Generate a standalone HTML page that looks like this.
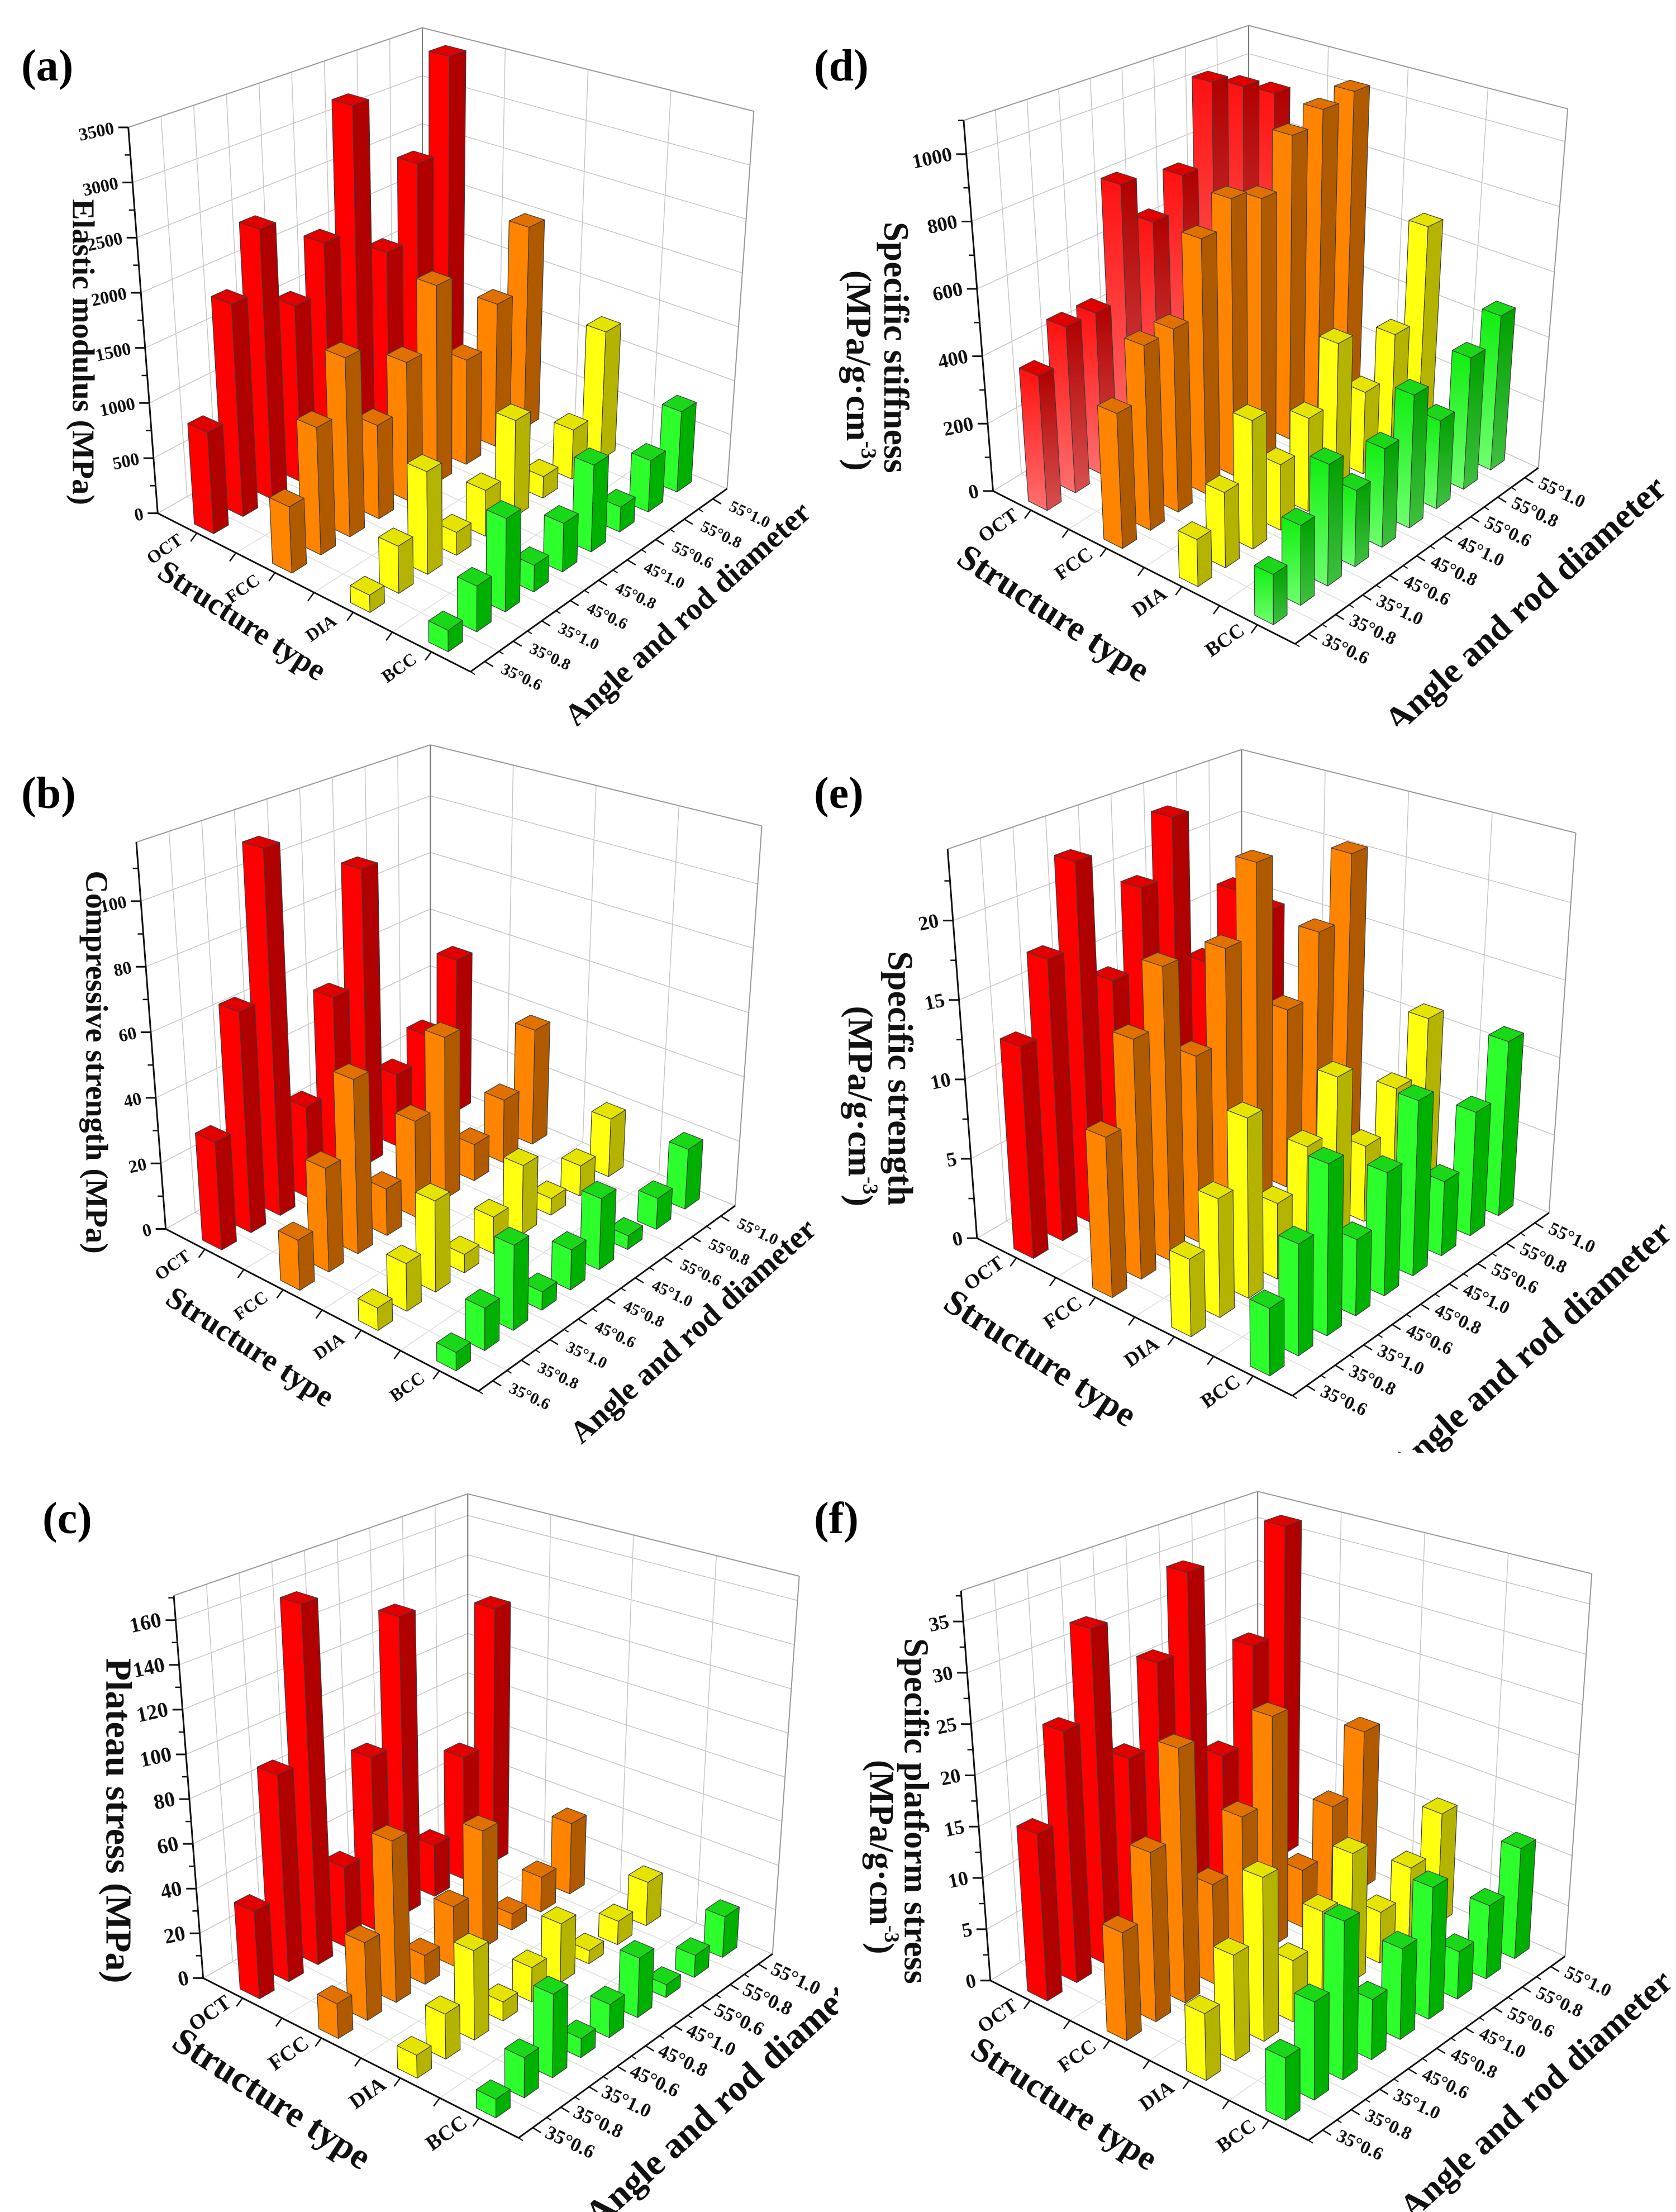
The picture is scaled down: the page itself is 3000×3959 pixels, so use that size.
<!DOCTYPE html>
<html><head><meta charset="utf-8">
<style>
html,body{margin:0;padding:0;background:#fff;}
#page{position:relative;width:3000px;height:3959px;overflow:hidden;background:#fff;font-family:"Liberation Serif",serif;}
.pl{position:absolute;font-weight:bold;font-size:80px;font-family:"Liberation Serif",serif;line-height:1;}
svg{position:absolute;overflow:hidden;}
svg text{font-family:"Liberation Serif",serif;font-weight:bold;fill:#111;}
</style></head>
<body>
<div id="page">
<svg width="0" height="0" style="left:0;top:0">
<defs>
<linearGradient id="gRedL" x1="0" y1="0" x2="0" y2="1"><stop offset="0" stop-color="#ff1010"/><stop offset="1" stop-color="#ff7070"/></linearGradient>
<linearGradient id="gRedR" x1="0" y1="0" x2="0" y2="1"><stop offset="0" stop-color="#b00000"/><stop offset="1" stop-color="#d85050"/></linearGradient>
<linearGradient id="gGrnL" x1="0" y1="0" x2="0" y2="1"><stop offset="0" stop-color="#10ee10"/><stop offset="1" stop-color="#70ff70"/></linearGradient>
<linearGradient id="gGrnR" x1="0" y1="0" x2="0" y2="1"><stop offset="0" stop-color="#00a000"/><stop offset="1" stop-color="#40c040"/></linearGradient>
</defs>
</svg>
<div class="pl" style="left:38px;top:78px">(a)</div>
<div class="pl" style="left:1457px;top:78px">(d)</div>
<div class="pl" style="left:38px;top:1380px">(b)</div>
<div class="pl" style="left:1457px;top:1380px">(e)</div>
<div class="pl" style="left:76px;top:2678px">(c)</div>
<div class="pl" style="left:1457px;top:2678px">(f)</div>
</div>
<script>
const categories = ["OCT","FCC","DIA","BCC"];
const angleLabels = ["35°0.6","35°0.8","35°1.0","45°0.6","45°0.8","45°1.0","55°0.6","55°0.8","55°1.0"];

const elasticOCT = [904,1923,2482,1643,2102,3293,1739,2479,3429];
const elasticFCC = [574,1120,1598,845,1270,1839,988,1368,1967];
const elasticDIA = [145,403,890,201,409,877,198,459,1219];
const elasticBCC = [176,380,787,227,421,766,222,467,742];
const elasticTicks = [0,500,1000,1500,2000,2500,3000,3500];

const stiffOCT = [391,491,489,840,683,790,1054,1002,940];
const stiffFCC = [378,527,532,756,837,798,956,1001,1022];
const stiffDIA = [127,207,360,187,271,443,247,373,663];
const stiffBCC = [131,212,329,210,277,381,257,393,470];
const stiffTicks = [0,200,400,600,800,1000];

const compOCT = [32.3,67.2,113.5,28.5,58.5,95.5,23.6,31.5,51.7];
const compFCC = [14.5,30.5,52.1,14.1,29.6,50.7,11.5,20.2,37.6];
const compDIA = [6.3,13.6,26.4,5.4,10.9,20.9,5.1,9.4,18.4];
const compBCC = [5.0,11.7,23.9,5.2,11.6,20.9,4.1,9.4,18.5];
const compTicks = [0,20,40,60,80,100];

const sstrOCT = [13.1,17.7,23.1,14.6,19.8,23.7,13,17,14.6];
const sstrFCC = [9.6,14.6,18.2,11.7,17.6,22.3,11.7,15.9,20.3];
const sstrDIA = [4.5,7.0,10.8,4.6,7.0,10.3,4.8,7.4,10.9];
const sstrBCC = [3.8,6.4,10.0,4.5,7.4,10.7,4.6,7.8,11.2];
const sstrTicks = [0,5,10,15,20];

const platOCT = [38.4,92.2,163,36.7,80.3,140,24.3,59.1,125];
const platFCC = [14.8,33.6,70.8,12.8,26.8,53.6,7.5,16.3,33.6];
const platDIA = [9.5,18.9,38.1,8.2,15.0,26.2,5.9,10.7,20.1];
const platBCC = [7.5,16.4,34.6,8.0,14.1,25.7,5.6,9.8,18.3];
const platTicks = [0,20,40,60,80,100,120,140,160];

const spOCT = [15.9,24.4,33.2,18.9,27.2,35.3,14.4,24.7,36.5];
const spFCC = [9.9,15.8,24.2,9.6,14.6,23.1,5.8,10.6,16.8];
const spDIA = [5.9,9.5,15.0,5.7,8.6,12.5,5.0,7.6,11.3];
const spBCC = [5.3,8.5,14.0,5.4,8.3,12.3,4.5,7.1,10.9];
const spTicks = [0,5,10,15,20,25,30,35];

const NS = "http://www.w3.org/2000/svg";
const page = document.getElementById('page');
const COLORS = [
  {l:"#ff0000", r:"#b00000", t:"#e00000"},
  {l:"#ff8400", r:"#b05a00", t:"#e07000"},
  {l:"#ffff10", r:"#b4b400", t:"#e4e400"},
  {l:"#2cff2c", r:"#00b000", t:"#18d818"}
];
const GRAD = [
  {l:"url(#gRedL)", r:"url(#gRedR)", t:"#e00000"},
  {l:"#ff8400", r:"#b05a00", t:"#e07000"},
  {l:"#ffff10", r:"#b4b400", t:"#e4e400"},
  {l:"url(#gGrnL)", r:"url(#gGrnR)", t:"#18d818"}
];

function mk(tag, attrs, parent){
  const e = document.createElementNS(NS, tag);
  for (const k in attrs) e.setAttribute(k, attrs[k]);
  parent.appendChild(e);
  return e;
}

function makePanel(cfg){
  const svg = document.createElementNS(NS,'svg');
  
  
  svg.setAttribute('width', cfg.w);
  svg.setAttribute('height', cfg.h);
  svg.setAttribute('viewBox', '0 0 ' + cfg.w + ' ' + cfg.h);
  svg.style.left = cfg.x + 'px';
  svg.style.top = cfg.y + 'px';
  page.appendChild(svg);
  const sx = 1/1.045, sy = cfg.h/1568;
  const T = (p)=>[p[0]*sx, p[1]*sy];
  const zmax = cfg.zmax;
  const pal = cfg.grad ? GRAD : COLORS;
  function bil(a,b,c,d,u,v){
    return [(1-u)*(1-v)*a[0]+u*(1-v)*b[0]+u*v*c[0]+(1-u)*v*d[0],
            (1-u)*(1-v)*a[1]+u*(1-v)*b[1]+u*v*c[1]+(1-u)*v*d[1]];
  }
  function P(u,v,z){
    const f = bil(cfg.L,cfg.F,cfg.R,cfg.B,u,v);
    const t = bil(cfg.LT,cfg.FT,cfg.RT,cfg.BT,u,v);
    const k = z/zmax;
    return T([f[0]+(t[0]-f[0])*k, f[1]+(t[1]-f[1])*k]);
  }
  function line(a,b,stroke,w,name){
    const l = mk('line',{x1:a[0],y1:a[1],x2:b[0],y2:b[1],stroke:stroke,'stroke-width':w},svg);
    
    
    return l;
  }
  const grid = "#c6c6c6";
  for (let k=0;k<=4;k++) line(P(k/4,0,0),P(k/4,1,0),"#dcdcdc",1.5,'floor-grid-line');
  for (let k=0;k<=9;k++) line(P(0,k/9,0),P(1,k/9,0),"#dcdcdc",1.5,'floor-grid-line');
  for (let k=0;k<=9;k++) line(P(0,k/9,0),P(0,k/9,zmax),grid,1.5,'wall-grid-line');
  for (let k=0;k<=4;k++) line(P(k/4,1,0),P(k/4,1,zmax),grid,1.5,'wall-grid-line');
  const hs = cfg.ticks.concat([zmax]);
  for (const t of hs){
    line(P(0,0,t),P(0,1,t),grid,1.5,'wall-grid-line');
    line(P(0,1,t),P(1,1,t),grid,1.5,'wall-grid-line');
  }
  line(P(0,1,0),P(0,1,zmax),"#777",2,'box-edge');
  line(P(0,0,zmax),P(0,1,zmax),"#999",2,'box-edge');
  line(P(0,1,zmax),P(1,1,zmax),"#999",2,'box-edge');
  line(P(1,1,0),P(1,1,zmax),"#999",2,'box-edge');

  const bars = [];
  for (let i=0;i<4;i++) for (let j=0;j<9;j++){
    const uc=(i+0.5)/4, vc=(j+0.5)/9;
    bars.push({i:i,j:j,uc:uc,vc:vc,val:cfg.series[i][j],key:P(uc,vc,0)[1]});
  }
  bars.sort((a,b)=>a.key-b.key);
  const du=0.031, dv=0.028;
  function poly(pts,fill,name){
    const p = mk('polygon',{points:pts.map(q=>q[0].toFixed(1)+','+q[1].toFixed(1)).join(' '),fill:fill,stroke:'#3a3a3a','stroke-width':1.2,'stroke-linejoin':'round'},svg);
    
    
    return p;
  }
  for (const b of bars){
    const u0=b.uc-du,u1=b.uc+du,v0=b.vc-dv,v1=b.vc+dv,z=b.val;
    const c = pal[b.i];
    const nm = 'bar-' + categories[b.i].toLowerCase() + '-' + b.j;
    const g = mk('g',{},svg);
    
    
    const add = (pts,fill,n)=>{ const p=poly(pts,fill,n); g.appendChild(p); };
    add([P(u0,v0,0),P(u1,v0,0),P(u1,v0,z),P(u0,v0,z)],c.l,'bar-front-face');
    add([P(u1,v0,0),P(u1,v1,0),P(u1,v1,z),P(u1,v0,z)],c.r,'bar-side-face');
    add([P(u0,v0,z),P(u1,v0,z),P(u1,v1,z),P(u0,v1,z)],c.t,'bar-top-face');
  }

  line(P(0,0,0),P(0,0,zmax),"#111",3,'z-axis-line');
  line(P(0,0,0),P(1,0,0),"#111",3,'x-axis-line');
  line(P(1,0,0),P(1,1,0),"#111",3,'y-axis-line');
  const step = cfg.ticks[1]-cfg.ticks[0];
  for (const t of cfg.ticks){
    const p = P(0,0,t);
    line(p,[p[0]-18,p[1]],"#111",3,'z-axis-tick');
    if (t+step/2 <= zmax){ const q=P(0,0,t+step/2); line(q,[q[0]-10,q[1]],"#111",2.5,'z-axis-minor-tick'); }
    const tx = mk('text',{x:p[0]-26,y:p[1]+11,'text-anchor':'end','font-size':cfg.tk,transform:'rotate(-12 '+(p[0]-26)+' '+p[1]+')'},svg);
    tx.textContent = t;
    
    
  }
  for (let k=1;k<8;k++){
    const p = P(k/8,0,0);
    line(p,[p[0]-11,p[1]+15],"#111",2.5,'x-axis-tick');
  }
  for (let i=0;i<4;i++){
    const p = P((i+0.5)/4,0,0);
    const x=p[0]-58, y=p[1]+28;
    const tx = mk('text',{x:x,y:y+11,'text-anchor':'middle','font-size':cfg.tk,transform:'rotate(-35 '+x+' '+y+')'},svg);
    tx.textContent = categories[i];
    
    
  }
  for (let j=0;j<9;j++){
    const p = P(1,(j+0.5)/9,0);
    line(p,[p[0]+15,p[1]+9],"#111",2.5,'angle-axis-tick');
    const p2 = P(1,j/9,0);
    line(p2,[p2[0]+8,p2[1]+5],"#111",2,'angle-axis-minor-tick');
    const x=p[0]+66, y=p[1]+28;
    const tx = mk('text',{x:x,y:y+9,'text-anchor':'middle','font-size':cfg.tk-3,transform:'rotate(25 '+x+' '+y+')'},svg);
    tx.textContent = angleLabels[j];
    
    
  }
  cfg.ytitle.forEach((yt)=>{
    const q = T([yt.x,yt.y]);
    const tx = mk('text',{x:q[0],y:q[1],'text-anchor':'middle','dominant-baseline':'middle','font-size':cfg.tfs,transform:'rotate(90 '+q[0]+' '+q[1]+')'},svg);
    
    
    if (yt.sup){
      tx.appendChild(document.createTextNode(yt.text));
      const ts = mk('tspan',{'baseline-shift':'super','font-size':cfg.tfs*0.6},tx);
      ts.textContent = '-3';
      tx.appendChild(document.createTextNode(')'));
    } else tx.textContent = yt.text;
  });
  const s = T(cfg.st);
  const st = mk('text',{x:s[0],y:s[1],'text-anchor':'middle','dominant-baseline':'middle','font-size':cfg.tfs,transform:'rotate(33 '+s[0]+' '+s[1]+')'},svg);
  st.textContent = 'Structure type';
  
  
  const a = T(cfg.at);
  const at = mk('text',{x:a[0],y:a[1],'text-anchor':'middle','dominant-baseline':'middle','font-size':cfg.tfs,transform:'rotate(-42 '+a[0]+' '+a[1]+')'},svg);
  at.textContent = 'Angle and rod diameter';
  
  
}

makePanel({id:'panel-a',x:0,y:0,w:1500,h:1300,zmax:3500,ticks:elasticTicks,tk:32,
  series:[elasticOCT,elasticFCC,elasticDIA,elasticBCC],
  L:[295,1108],F:[880,1450],R:[1360,1055],B:[790,785],
  LT:[240,275],FT:[880,514],RT:[1410,240],BT:[790,60],
  tfs:56, ytitle:[{x:150,y:760,text:'Elastic modulus (MPa)'}], st:[450,1345], at:[1290,1330]});
makePanel({id:'panel-d',x:1500,y:0,w:1500,h:1300,zmax:1100,ticks:stiffTicks,tk:36,grad:true,
  series:[stiffOCT,stiffFCC,stiffDIA,stiffBCC],
  L:[290,1060],F:[855,1390],R:[1310,1010],B:[768,723],
  LT:[235,260],FT:[855,462],RT:[1365,235],BT:[768,55],
  tfs:64, ytitle:[{x:102,y:750,text:'Specific stiffness'},{x:32,y:800,text:'(MPa/g·cm',sup:true}], st:[400,1330], at:[1290,1310]});
makePanel({id:'panel-b',x:0,y:1300,w:1500,h:1300,zmax:118,ticks:compTicks,tk:32,
  series:[compOCT,compFCC,compDIA,compBCC],
  L:[310,1085],F:[895,1435],R:[1375,1035],B:[805,761],
  LT:[255,250],FT:[895,485],RT:[1425,215],BT:[805,40],
  tfs:56, ytitle:[{x:175,y:725,text:'Compressive strength (MPa)'}], st:[465,1345], at:[1300,1310]});
makePanel({id:'panel-e',x:1500,y:1300,w:1500,h:1300,zmax:24.5,ticks:sstrTicks,tk:36,
  series:[sstrOCT,sstrFCC,sstrDIA,sstrBCC],
  L:[260,1105],F:[850,1445],R:[1330,1050],B:[755,772],
  LT:[205,265],FT:[850,491],RT:[1380,230],BT:[755,50],
  tfs:64, ytitle:[{x:110,y:760,text:'Specific strength'},{x:35,y:820,text:'(MPa/g·cm',sup:true}], st:[375,1370], at:[1300,1350]});
makePanel({id:'panel-c',x:0,y:2600,w:1500,h:1359,zmax:171,ticks:platTicks,tk:38,
  series:[platOCT,platFCC,platDIA,platBCC],
  L:[380,1085],F:[970,1415],R:[1445,1035],B:[875,779],
  LT:[325,295],FT:[970,527],RT:[1495,255],BT:[875,85],
  tfs:66, ytitle:[{x:215,y:760,text:'Plateau stress (MPa)'}], st:[505,1340], at:[1370,1330]});
makePanel({id:'panel-f',x:1500,y:2600,w:1500,h:1359,zmax:38,ticks:spTicks,tk:36,
  series:[spOCT,spFCC,spDIA,spBCC],
  L:[285,1090],F:[880,1420],R:[1360,1040],B:[785,757],
  LT:[230,285],FT:[880,481],RT:[1410,250],BT:[785,80],
  tfs:62, ytitle:[{x:140,y:740,text:'Specific platform stress'},{x:75,y:835,text:'(MPa/g·cm',sup:true}], st:[420,1350], at:[1310,1330]});
</script>
</body></html>
